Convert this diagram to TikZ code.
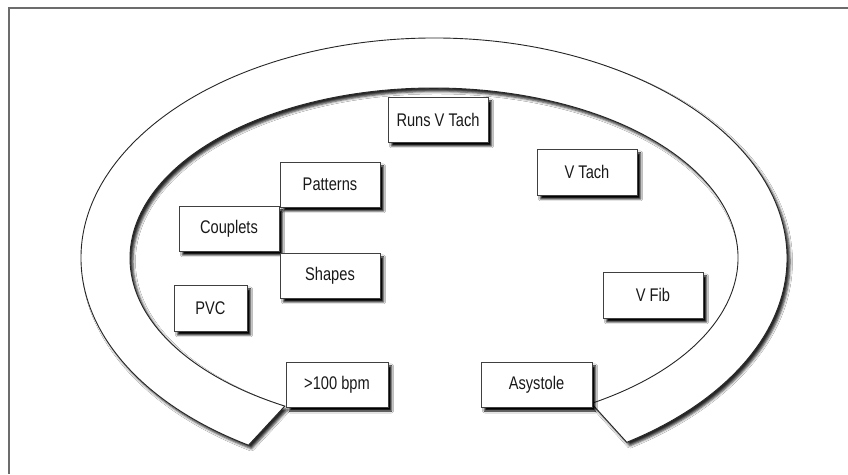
\documentclass[tikz,border=0pt]{standalone}
\usepackage{fontspec}
\setmainfont{Liberation Sans}
\newfontfamily\boxfont[FakeStretch=0.8]{Liberation Sans}
\usetikzlibrary{shadows.blur}
\begin{document}
\begin{tikzpicture}[x=1pt,y=1pt,
  frameline/.style={draw=gray!85!black,line width=1.3pt},
  ring/.style={draw=black!85,line width=0.9pt,fill=white,
    blur shadow={shadow xshift=3pt,shadow yshift=-3.5pt,shadow blur radius=2.5pt,shadow opacity=85}},
  box/.style={draw=black!75,line width=0.9pt,fill=white,inner sep=0pt,
    font=\boxfont\fontsize{18.3}{20}\selectfont,text=black!90,
    blur shadow={shadow xshift=3.5pt,shadow yshift=-4pt,shadow blur radius=2pt,shadow opacity=100}}]
\useasboundingbox (0,0) rectangle (848,474);
\fill[white] (0,0) rectangle (848,474);
% frame
\coordinate (ftr) at (848,466);
\coordinate (ftl) at (9,466);
\coordinate (fbl) at (9,0);
\draw[frameline] (ftr) -- (ftl) -- (fbl);
% ring
\coordinate (c) at (434,216);
\draw[ring] ([shift={(238.3:353pt and 220pt)}]c)
  arc[start angle=238.3,end angle=-56.9,x radius=353pt,y radius=220pt]
  -- ([shift={(-58.8:304pt and 170pt)}]c)
  arc[start angle=-58.8,end angle=240.6,x radius=304pt,y radius=170pt]
  -- cycle;
% boxes
\node[box,minimum width=100pt,minimum height=45pt] (runs) at (438,354.5) {Runs V Tach};
\node[box,minimum width=100pt,minimum height=45pt] (patterns) at (330,289.5) {Patterns};
\node[box,minimum width=100pt,minimum height=45pt] (couplets) at (229,245.5) {Couplets};
\node[box,minimum width=100pt,minimum height=45pt] (shapes) at (330,198.5) {Shapes};
\node[box,minimum width=73pt,minimum height=46pt] (pvc) at (210.5,166) {PVC};
\node[box,minimum width=102pt,minimum height=45pt] (bpm) at (337,89.5) {>100 bpm};
\node[box,minimum width=100pt,minimum height=46pt] (vtach) at (587,302) {V Tach};
\node[box,minimum width=100pt,minimum height=46pt] (vfib) at (653,179) {V Fib};
\node[box,minimum width=111pt,minimum height=45pt] (asys) at (536.5,89.5) {Asystole};
\end{tikzpicture}
\end{document}
